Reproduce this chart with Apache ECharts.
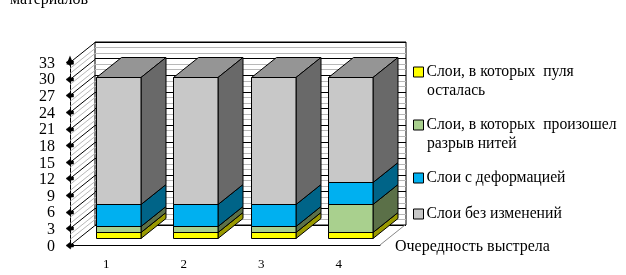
<!DOCTYPE html>
<html><head><meta charset="utf-8">
<style>html,body{margin:0;padding:0;background:#fff}#c{width:626px;height:275px}</style>
<script src="https://cdn.jsdelivr.net/npm/echarts@6/dist/echarts.min.js"></script>
</head><body><div id="c"></div>
<script>
const categories = ['1','2','3','4'];
const yellowValues = [1,1,1,1];
const greenValues = [1,1,1,5];
const blueValues = [4,4,4,4];
const grayValues = [23,23,23,19];
const legendLines = [
  ['Слои, в которых  пуля','осталась'],
  ['Слои, в которых  произошел','разрыв нитей'],
  ['Слои с деформацией'],
  ['Слои без изменений']
];
const legendTops = [64,117,170,206];
const secondLineTops = [92,145];
const frontColors = ['#FFFF00','#A9D08E','#00B0F0','#C8C8C8'];
const sideColors = ['#999900','#5B7048','#006488','#696969'];
const topColor = '#959595';
const layerValues = [yellowValues,greenValues,blueValues,grayValues];
const axisTicks = [0,3,6,9,12,15,18,21,24,27,30,33];
const wallLevels = [0,1,2,3,4,5,6,7,8,9,10,11,12,13,14,15,16,17,18,19,20,21,22,23,24,25,26,27,28,29,30,31,32,33];
const serif = '"Liberation Serif","Times New Roman",serif';
const DX = 25, DY = -20;       // depth of the 3D projection
const SHIFT_X = 9.4, SHIFT_Y = -7.5, BAR_RATIO = 0.58;

const black = {stroke:'#000',lineWidth:1};
const layerSeries = layerValues.map((vals,li)=>({
  type:'custom', name:legendLines[li].join(' ').replace('  ',' '),
  coordinateSystem:'cartesian2d', xAxisIndex:0, yAxisIndex:0, z:5+li,
  itemStyle:{color:frontColors[li],borderColor:'#000',borderWidth:1},
  data:categories.map((c,i)=>{
    let base=0; for(let k=0;k<li;k++) base+=layerValues[k][i];
    return [i,base,base+vals[i]];
  }),
  renderItem(params,api){
    const i=api.value(0);
    const band=api.size([1,0])[0];
    const w=band*BAR_RATIO;
    const b=api.coord([i,api.value(1)]), t=api.coord([i,api.value(2)]);
    const xa=Math.round(b[0]-w/2+SHIFT_X)+0.5, xb=Math.round(xa+w);
    const yb=Math.round(b[1]+SHIFT_Y)+0.5, yt=Math.round(t[1]+SHIFT_Y)+0.5;
    return {type:'group',children:[
      {type:'polygon',shape:{points:[[xa,yt],[xa+DX,yt+DY],[xb+DX,yt+DY],[xb,yt]]},style:{fill:topColor,...black}},
      {type:'polygon',shape:{points:[[xb,yb],[xb,yt],[xb+DX,yt+DY],[xb+DX,yb+DY]]},style:{fill:sideColors[li],...black}},
      {type:'rect',shape:{x:xa,y:yt,width:xb-xa,height:yb-yt},style:{fill:frontColors[li],...black}}
    ]};
  }
}));

const sideWall = {
  type:'custom', xAxisIndex:0, yAxisIndex:0, z:2, silent:true,
  data:wallLevels.map(v=>[0,v]),
  renderItem(params,api){
    const v=api.value(1), p=api.coord([0,v]), band=api.size([1,0])[0];
    const x=p[0]-band/2, y=Math.round(p[1])+0.5;
    const major=v%3===0;
    return {type:'line',shape:{x1:x,y1:y,x2:x+DX,y2:y+DY},
      style:{stroke:major?'#000':'#b8b8b8',lineWidth:1}};
  }
};
const floorEdge = {
  type:'custom', xAxisIndex:0, yAxisIndex:0, z:2, silent:true,
  data:[[categories.length-1,0]],
  renderItem(params,api){
    const p=api.coord([api.value(0),0]), band=api.size([1,0])[0];
    const x=p[0]+band/2;
    return {type:'line',shape:{x1:x,y1:p[1],x2:x+DX,y2:p[1]+DY},style:{stroke:'#888',lineWidth:1}};
  }
};
const tickMarks = {
  type:'custom', xAxisIndex:0, yAxisIndex:0, z:12, silent:true,
  data:axisTicks.map(v=>[0,v]),
  renderItem(params,api){
    const v=api.value(1), p=api.coord([0,v]), band=api.size([1,0])[0];
    const x=p[0]-band/2, y=Math.round(p[1])+0.5;
    return {type:'polygon',shape:{points:[[x-4,y],[x+0.5,y-3.5],[x+1,y-1.5],[x+3.5,y-1.5],[x+3.5,y+1.5],[x+1,y+1.5],[x+0.5,y+3.5]]},
      style:{fill:'#000',stroke:'#000',lineWidth:0.5}};
  }
};

const chart = echarts.init(document.getElementById('c'),null,{renderer:'canvas'});
chart.setOption({
  animation:false,
  backgroundColor:'#fff',
  grid:[
    {left:70,right:246,top:62,bottom:30},
    {left:95,right:220,top:42,bottom:50,show:true,borderColor:'#000',borderWidth:1,backgroundColor:'#fff'}
  ],
  xAxis:[
    {type:'category',gridIndex:0,data:categories,
      axisLine:{onZero:false,lineStyle:{color:'#000',width:1}},axisTick:{show:false},
      axisLabel:{color:'#000',fontFamily:serif,fontSize:13,margin:13,padding:[0,5,0,0]},
      name:'Очередность выстрела',nameLocation:'end',nameGap:15,
      nameTextStyle:{color:'#000',fontFamily:serif,fontSize:16,verticalAlign:'top',lineHeight:3}},
    {type:'category',gridIndex:1,data:categories,show:false}
  ],
  yAxis:[
    {type:'value',gridIndex:0,min:0,max:33,interval:3,
      axisLine:{show:true,lineStyle:{color:'#000',width:1},symbol:['none','triangle'],symbolSize:[7,9],symbolOffset:[0,2]},
      axisTick:{show:false},splitLine:{show:false},
      axisLabel:{color:'#000',fontFamily:serif,fontSize:16,margin:15,verticalAlign:'top',lineHeight:3}},
    {type:'value',gridIndex:1,min:0,max:33,interval:3,
      axisLine:{show:false},axisTick:{show:false},axisLabel:{show:false},
      splitLine:{show:true,lineStyle:{color:'#000',width:1}},
      minorTick:{show:false,splitNumber:3},
      minorSplitLine:{show:true,lineStyle:{color:'#b8b8b8',width:1}}}
  ],
  legend:layerSeries.map((s,i)=>({
    data:[s.name],left:413,top:legendTops[i],orient:'vertical',icon:'rect',
    itemWidth:10,itemHeight:10,itemGap:0,padding:0,selectedMode:false,
    formatter:()=>legendLines[i][0],
    itemStyle:{borderColor:'#000',borderWidth:1},
    textStyle:{color:'#000',fontFamily:serif,fontSize:15.7,padding:[0,0,3,-2]}
  })),
  graphic:[
    {type:'text',left:10,top:-8,style:{text:'материалов',fill:'#000',font:'16px '+serif}},
    ...legendLines.map((l,i)=>l[1]?{type:'text',left:427,top:secondLineTops[i]-9,
      style:{text:l[1],fill:'#000',font:'15.7px '+serif}}:null).filter(Boolean)
  ],
  series:[sideWall,floorEdge,...layerSeries,tickMarks]
});
</script></body></html>
